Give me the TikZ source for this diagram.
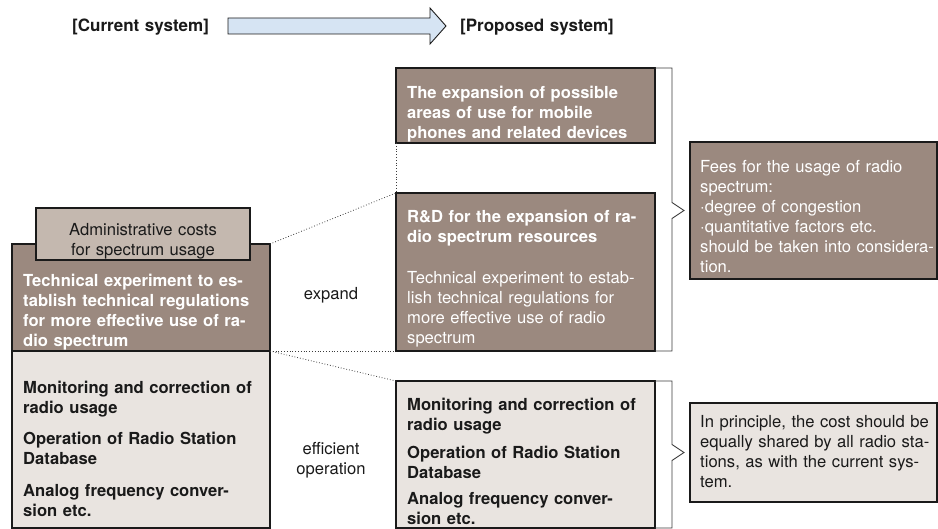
\documentclass[tikz,border=0pt]{standalone}
\usepackage{fontspec}
\setmainfont{TeX Gyre Heros}
\usetikzlibrary{positioning}
\definecolor{boxBrown}{HTML}{9B897F}
\definecolor{boxLight}{HTML}{E9E4E0}
\definecolor{boxAdmin}{HTML}{C4B8AF}
\definecolor{arrowBlue}{HTML}{D6E4F3}
\definecolor{inkDark}{HTML}{1A1A1A}
\definecolor{inkMid}{HTML}{3C3C3C}

\begin{document}
\begin{tikzpicture}[
  x=1pt, y=-1pt,
  box/.style={draw=inkDark, line width=1.4pt, inner sep=0pt, outer sep=0pt, anchor=north west},
  brownbox/.style={box, fill=boxBrown},
  lightbox/.style={box, fill=boxLight},
  adminbox/.style={box, fill=boxAdmin},
  bracket/.style={draw=inkMid, line width=0.9pt},
  link/.style={draw=inkMid, dotted, line width=0.8pt},
  txt/.style={font=\fontsize{16.6}{20}\selectfont, inner sep=0pt, anchor=base west,
    text width=260pt, align=left, text=inkDark},
  txtbf/.style={txt, font=\fontsize{16.6}{20}\selectfont\bfseries},
  head/.style={txt, font=\fontsize{17}{20}\selectfont\bfseries},
  mid/.style={txt, anchor=base, text width=110pt, align=center}
]
  \useasboundingbox (0,0) rectangle (938,529);

  %% --- intestazione e freccia ---
  \node[head] (curlab) at (72,32) {[Current system]};
  \node[head] (proplab) at (460,32) {[Proposed system]};
  \draw[fill=arrowBlue, draw=inkDark, line width=0.9pt]
    (228,18) -- (430,18) -- (430,8) -- (446,26) -- (430,44) -- (430,34) -- (228,34) -- cycle;

  %% --- sistema attuale (sinistra) ---
  \node[brownbox, minimum width=258pt, minimum height=107pt] (techold) at (12,244) {};
  \node[lightbox, minimum width=258pt, minimum height=177pt] (opold) at (12,351) {};
  \node[adminbox, minimum width=214pt, minimum height=52pt] (admin) at (36,208) {};

  \node[mid, text width=214pt] (admintxt) at (143,235.5)
    {Administrative costs\\for spectrum usage};
  \node[txtbf, text=white] (techoldtxt) at (23,287)
    {Technical experiment to es-\\tablish technical regulations\\for more effective use of ra-\\dio spectrum};
  \node[txtbf] (opoldtxt) at (23,394)
    {Monitoring and correction of\\radio usage\\[11pt]Operation of Radio Station\\Database\\[12pt]Analog frequency conver-\\sion etc.};

  \node[mid] (expandlab) at (331,300) {expand};
  \node[mid] (efflab) at (331,455) {efficient\\operation};

  %% --- sistema proposto (centro) ---
  \node[brownbox, minimum width=259pt, minimum height=75pt] (expA) at (396,68) {};
  \node[brownbox, minimum width=259pt, minimum height=158pt] (rdB) at (396,193) {};
  \node[lightbox, minimum width=259pt, minimum height=147pt] (opnew) at (396,381) {};

  \node[txtbf, text=white] (expAtxt) at (407,98.5)
    {The expansion of possible\\areas of use for mobile\\phones and related devices};
  \node[txtbf, text=white] (rdBtxt) at (407,222.5)
    {R\&D for the expansion of ra-\\dio spectrum resources\\[21pt]\mdseries Technical experiment to estab-\\lish technical regulations for\\more effective use of radio\\spectrum};
  \node[txtbf] (opnewtxt) at (407,410.5)
    {Monitoring and correction of\\radio usage\\[8pt]Operation of Radio Station\\Database\\[6pt]Analog frequency conver-\\sion etc.};

  %% --- riquadri delle tariffe (destra) ---
  \node[brownbox, minimum width=247pt, minimum height=137pt] (fees) at (690,142) {};
  \node[lightbox, minimum width=247pt, minimum height=99pt] (princ) at (690,403) {};

  \node[txt, text=white] (feestxt) at (700,173)
    {Fees for the usage of radio\\spectrum:\\·degree of congestion\\·quantitative factors etc.\\should be taken into considera-\\tion.};
  \node[txt] (princtxt) at (700,428)
    {In principle, the cost should be\\equally shared by all radio sta-\\tions, as with the current sys-\\tem.};

  %% --- parentesi verso i riquadri di destra ---
  \coordinate (tipup) at ([xshift=-6pt]fees.west);
  \coordinate (tipdn) at ([xshift=-6pt]princ.west);
  \draw[bracket] (expA.north east) -- ++(17,0) -- ([xshift=-12pt,yshift=8pt]tipup) -- (tipup)
    -- ([xshift=-12pt,yshift=-8pt]tipup) -- ([xshift=17pt]rdB.south east) -- (rdB.south east);
  \draw[bracket] (opnew.north east) -- ++(17,0) -- ([xshift=-12pt,yshift=8pt]tipdn) -- (tipdn)
    -- ([xshift=-12pt,yshift=-8pt]tipdn) -- ([xshift=17pt]opnew.south east) -- (opnew.south east);

  %% --- collegamenti tratteggiati ---
  \draw[link] (techold.north east) -- (rdB.north west);
  \draw[link] (expA.south west) -- (rdB.north west);
  \draw[link] (techold.south east) -- (rdB.south west);
  \draw[link] (techold.south east) -- (opnew.north west);
\end{tikzpicture}
\end{document}
